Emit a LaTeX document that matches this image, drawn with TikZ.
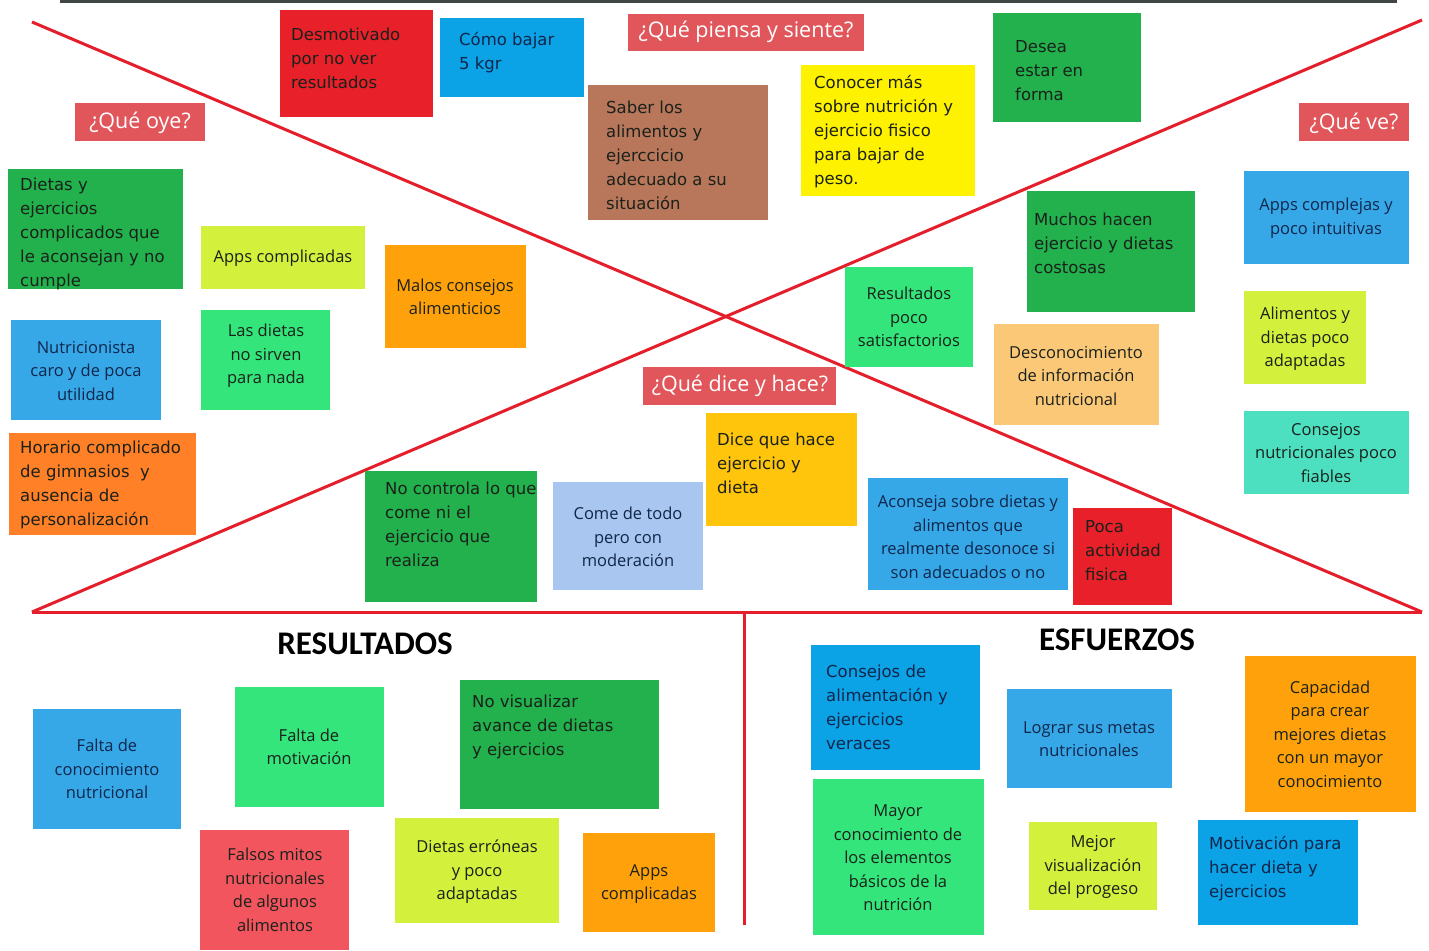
\documentclass[tikz,border=0pt]{standalone}
\usepackage{fontspec}
\setmainfont{Open Sans}
\newfontfamily\widefont{DejaVu Sans}
\newfontfamily\opfont{Open Sans}
\newfontfamily\carlfont{Carlito}
\definecolor{cred}{HTML}{E8202A}
\definecolor{clabel}{HTML}{E0565B}
\definecolor{cblue}{HTML}{0BA2E6}
\definecolor{cblueL}{HTML}{36A8E8}
\definecolor{cbrown}{HTML}{B8775A}
\definecolor{cyellow}{HTML}{FFF200}
\definecolor{cgreen}{HTML}{22B14C}
\definecolor{clime}{HTML}{D2F03C}
\definecolor{corange}{HTML}{FFA10A}
\definecolor{corangeD}{HTML}{FF8026}
\definecolor{clgreen}{HTML}{33E57A}
\definecolor{clorange}{HTML}{FBC878}
\definecolor{cteal}{HTML}{4CDFC0}
\definecolor{camber}{HTML}{FFC40C}
\definecolor{cpale}{HTML}{A8C6EF}
\definecolor{csalmon}{HTML}{F2555E}
\definecolor{ink}{HTML}{1A211B}
\definecolor{navy}{HTML}{10264A}
\definecolor{lred}{HTML}{E41E2B}
\definecolor{topgray}{HTML}{3E4646}
\newcommand\stk[9]{%
  \fill[#2] (#3,#4) rectangle (#5,#6);
  \node[#2, fill=none, #7] (#1) at #8 {#9};}
\begin{document}
\begin{tikzpicture}[x=1pt,y=-1pt,
  ltext/.style={font=\widefont\fontsize{16.5}{24}\selectfont, align=left, inner sep=0pt, anchor=west},
  ctext/.style={font=\opfont\fontsize{16.5}{23.5}\selectfont, align=center, inner sep=0pt},
  lab/.style={font=\opfont\fontsize{21.5}{24}\selectfont, inner sep=0pt},
  head/.style={font=\carlfont\bfseries\fontsize{33}{38}\selectfont, text=black, inner sep=0pt},
  redline/.style={draw=lred, line width=3pt}]
\fill[white] (0,0) rectangle (1429,950);
\useasboundingbox (0,0) rectangle (1429,950);
% frame lines
\draw[topgray, line width=3.5pt] (60,1) -- (1397,1);
\coordinate (tl) at (32,22);
\coordinate (tr) at (1422,20);
\coordinate (bl) at (32,612);
\coordinate (br) at (1422,612);
\coordinate (vt) at (744,612);
\coordinate (vb) at (744,925);
\draw[redline] (tl) -- (br);
\draw[redline] (tr) -- (bl);
\draw[redline] (bl) -- (br);
\draw[redline] (vt) -- (vb);
% labels
\stk{lpiensa}{fill=clabel,text=white}{628}{14}{864}{51}{lab}{(746,32)}{¿Qué piensa y siente?}
\stk{loye}{fill=clabel,text=white}{75}{103}{205}{141}{lab}{(140,123)}{¿Qué oye?}
\stk{lve}{fill=clabel,text=white}{1299}{103}{1409}{141}{lab}{(1354,123)}{¿Qué ve?}
\stk{ldice}{fill=clabel,text=white}{643}{367}{836}{405}{lab}{(740,386)}{¿Qué dice y hace?}
% top
\stk{desmot}{fill=cred,text=ink}{280}{10}{433}{117}{ltext}{(291,58)}{Desmotivado\\por no ver\\resultados}
\stk{bajar}{fill=cblue,text=navy}{440}{18}{584}{97}{ltext}{(459,53)}{Cómo bajar\\5 kgr}
\stk{saber}{fill=cbrown,text=ink}{588}{85}{768}{220}{ltext}{(606,155)}{Saber los\\alimentos y\\ejerccicio\\adecuado a su\\situación}
\stk{conocer}{fill=cyellow,text=ink}{801}{65}{975}{196}{ltext}{(814,132)}{Conocer más\\sobre nutrición y\\ejercicio fisico\\para bajar de\\peso.}
\stk{desea}{fill=cgreen,text=ink}{993}{13}{1141}{122}{ltext}{(1015,71)}{Desea\\estar en\\forma}
% left
\stk{dietas}{fill=cgreen,text=ink}{8}{169}{183}{289}{ltext}{(20,234)}{Dietas y\\ejercicios\\complicados que\\le aconsejan y no\\cumple}
\stk{appsA}{fill=clime,text=ink}{201}{226}{365}{289}{ctext}{(283,258)}{Apps complicadas}
\stk{malos}{fill=corange,text=ink}{385}{245}{526}{348}{ctext}{(455,297)}{Malos consejos\\alimenticios}
\stk{nutri}{fill=cblueL,text=navy}{11}{320}{161}{420}{ctext}{(86,371)}{Nutricionista\\caro y de poca\\utilidad}
\stk{lasdietas}{fill=clgreen,text=ink}{201}{310}{330}{410}{ctext}{(266,356)}{Las dietas\\no sirven\\para nada}
\stk{horario}{fill=corangeD,text=ink}{9}{433}{196}{535}{ltext}{(20,485)}{Horario complicado\\de gimnasios\ \ y\\ausencia de\\personalización}
% right
\stk{appsC}{fill=cblueL,text=navy}{1244}{171}{1409}{264}{ctext}{(1326,218)}{Apps complejas y\\poco intuitivas}
\stk{muchos}{fill=cgreen,text=ink}{1027}{191}{1195}{312}{ltext}{(1034,243)}{Muchos hacen\\ejercicio y dietas\\costosas}
\stk{resul}{fill=clgreen,text=ink}{845}{267}{973}{367}{ctext}{(909,317)}{Resultados\\poco\\satisfactorios}
\stk{descon}{fill=clorange,text=ink}{994}{324}{1159}{425}{ctext}{(1076,376)}{Desconocimiento\\de información\\nutricional}
\stk{alim}{fill=clime,text=ink}{1244}{291}{1366}{384}{ctext}{(1305,339)}{Alimentos y\\dietas poco\\adaptadas}
\stk{consnut}{fill=cteal,text=ink}{1244}{411}{1409}{494}{ctext}{(1326,453)}{Consejos\\nutricionales poco\\fiables}
% bottom of the X
\stk{dicehace}{fill=camber,text=ink}{706}{413}{857}{526}{ltext}{(717,463)}{Dice que hace\\ejercicio y\\dieta}
\stk{nocontrola}{fill=cgreen,text=ink}{365}{471}{537}{602}{ltext}{(385,524)}{No controla lo que\\come ni el\\ejercicio que\\realiza}
\stk{come}{fill=cpale,text=navy}{553}{482}{703}{590}{ctext}{(628,537)}{Come de todo\\pero con\\moderación}
\stk{aconseja}{fill=cblueL,text=navy}{868}{478}{1068}{590}{ctext}{(968,537)}{Aconseja sobre dietas y\\alimentos que\\realmente desonoce si\\son adecuados o no}
\stk{poca}{fill=cred,text=ink}{1073}{508}{1172}{605}{ltext}{(1085,551)}{Poca\\actividad\\fisica}
% headings
\node[head] (resh) at (365,644) {RESULTADOS};
\node[head] (esfh) at (1117,640) {ESFUERZOS};
% resultados
\stk{faltacon}{fill=cblueL,text=navy}{33}{709}{181}{829}{ctext}{(107,769)}{Falta de\\conocimiento\\nutricional}
\stk{faltamot}{fill=clgreen,text=ink}{235}{687}{384}{807}{ctext}{(309,747)}{Falta de\\motivación}
\stk{novis}{fill=cgreen,text=ink}{460}{680}{659}{809}{ltext}{(472,727)}{No visualizar\\avance de dietas\\y ejercicios}
\stk{falsos}{fill=csalmon,text=ink}{200}{830}{349}{950}{ctext}{(275,890)}{Falsos mitos\\nutricionales\\de algunos\\alimentos}
\stk{erroneas}{fill=clime,text=ink}{395}{818}{559}{923}{ctext}{(477,872)}{Dietas erróneas\\y poco\\adaptadas}
\stk{appsB}{fill=corange,text=ink}{583}{833}{715}{932}{ctext}{(649,884)}{Apps\\complicadas}
% esfuerzos
\stk{consejosde}{fill=cblue,text=navy}{811}{645}{980}{770}{ltext}{(826,707)}{Consejos de\\alimentación y\\ejercicios\\veraces}
\stk{lograr}{fill=cblueL,text=navy}{1007}{689}{1172}{788}{ctext}{(1089,739)}{Lograr sus metas\\nutricionales}
\stk{capacidad}{fill=corange,text=ink}{1245}{656}{1416}{812}{ctext}{(1330,734)}{Capacidad\\para crear\\mejores dietas\\con un mayor\\conocimiento}
\stk{mayor}{fill=clgreen,text=ink}{813}{779}{984}{935}{ctext}{(898,858)}{Mayor\\conocimiento de\\los elementos\\básicos de la\\nutrición}
\stk{mejor}{fill=clime,text=ink}{1029}{822}{1157}{910}{ctext}{(1093,867)}{Mejor\\visualización\\del progeso}
\stk{motiv}{fill=cblue,text=navy}{1198}{820}{1358}{925}{ltext}{(1209,869)}{Motivación para\\hacer dieta y\\ejercicios}
\end{tikzpicture}
\end{document}
